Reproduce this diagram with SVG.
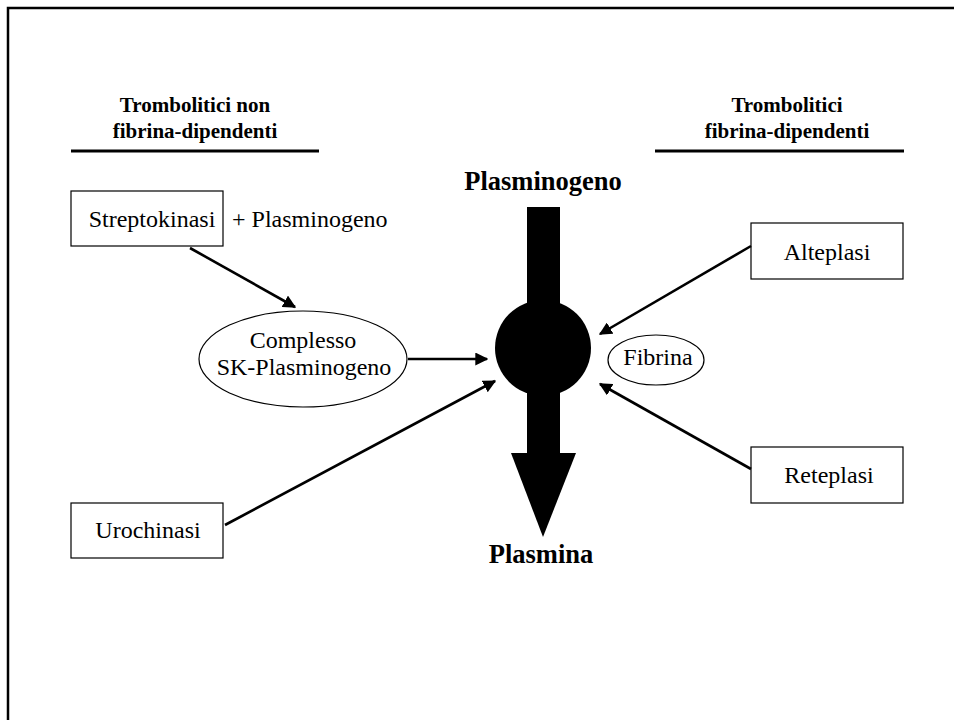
<svg xmlns="http://www.w3.org/2000/svg" width="954" height="720" viewBox="0 0 954 720">
<defs>
<style>
.t{font-family:"Liberation Serif","Times New Roman",serif;fill:#000}
.n{font-size:24px}
.h{font-size:21px;font-weight:bold}
.b{font-size:26.5px;font-weight:bold}
.box{fill:#fff;stroke:#000;stroke-width:1.2}
.c{stroke:#000;stroke-width:2.6;fill:none;marker-end:url(#ah)}
</style>
<marker id="ah" viewBox="0 0 10 10" refX="9" refY="5" markerWidth="5" markerHeight="5" orient="auto" markerUnits="strokeWidth">
<path d="M0,0 L10,5 L0,10 z" fill="#000"/>
</marker>
</defs>
<rect width="954" height="720" fill="#fff"/>
<polyline points="8,720 8,8 954,8" fill="none" stroke="#000" stroke-width="2.5"/>

<g id="header-left">
<text class="t h" x="195" y="112" text-anchor="middle">Trombolitici non</text>
<text class="t h" x="195" y="138" text-anchor="middle">fibrina-dipendenti</text>
<line x1="71" y1="151" x2="319" y2="151" stroke="#000" stroke-width="3"/>
</g>
<g id="header-right">
<text class="t h" x="787" y="112" text-anchor="middle">Trombolitici</text>
<text class="t h" x="787" y="138" text-anchor="middle">fibrina-dipendenti</text>
<line x1="655" y1="151" x2="904" y2="151" stroke="#000" stroke-width="3"/>
</g>

<g id="central-arrow">
<text class="t b" x="543" y="190" text-anchor="middle">Plasminogeno</text>
<rect x="527" y="207" width="33" height="250" fill="#000"/>
<circle cx="543" cy="348" r="48" fill="#000"/>
<polygon points="511,453 576,453 543,537" fill="#000"/>
<text class="t b" x="541" y="563" text-anchor="middle">Plasmina</text>
</g>

<g id="streptokinasi">
<rect class="box" x="71" y="191" width="152" height="55"/>
<text class="t n" x="152" y="227" text-anchor="middle">Streptokinasi</text>
<text class="t n" x="232" y="227">+ Plasminogeno</text>
</g>

<g id="complesso">
<ellipse class="box" cx="303" cy="359" rx="104" ry="48"/>
<text class="t n" x="303" y="348" text-anchor="middle">Complesso</text>
<text class="t n" x="304" y="375" text-anchor="middle">SK-Plasminogeno</text>
</g>

<g id="urochinasi">
<rect class="box" x="71" y="503" width="152" height="55"/>
<text class="t n" x="148" y="538" text-anchor="middle">Urochinasi</text>
</g>

<g id="alteplasi">
<rect class="box" x="751" y="223" width="152" height="56"/>
<text class="t n" x="827" y="260" text-anchor="middle">Alteplasi</text>
</g>

<g id="reteplasi">
<rect class="box" x="751" y="447" width="152" height="56"/>
<text class="t n" x="829" y="483" text-anchor="middle">Reteplasi</text>
</g>

<g id="fibrina">
<ellipse class="box" cx="656" cy="360" rx="48" ry="25"/>
<text class="t n" x="658" y="365" text-anchor="middle">Fibrina</text>
</g>

<g id="connectors">
<line class="c" x1="190" y1="248" x2="295" y2="307"/>
<line class="c" x1="408" y1="359" x2="487" y2="359"/>
<line class="c" x1="225" y1="525" x2="495" y2="381"/>
<line class="c" x1="751" y1="246" x2="600" y2="334"/>
<line class="c" x1="751" y1="469" x2="600" y2="384"/>
</g>
</svg>
